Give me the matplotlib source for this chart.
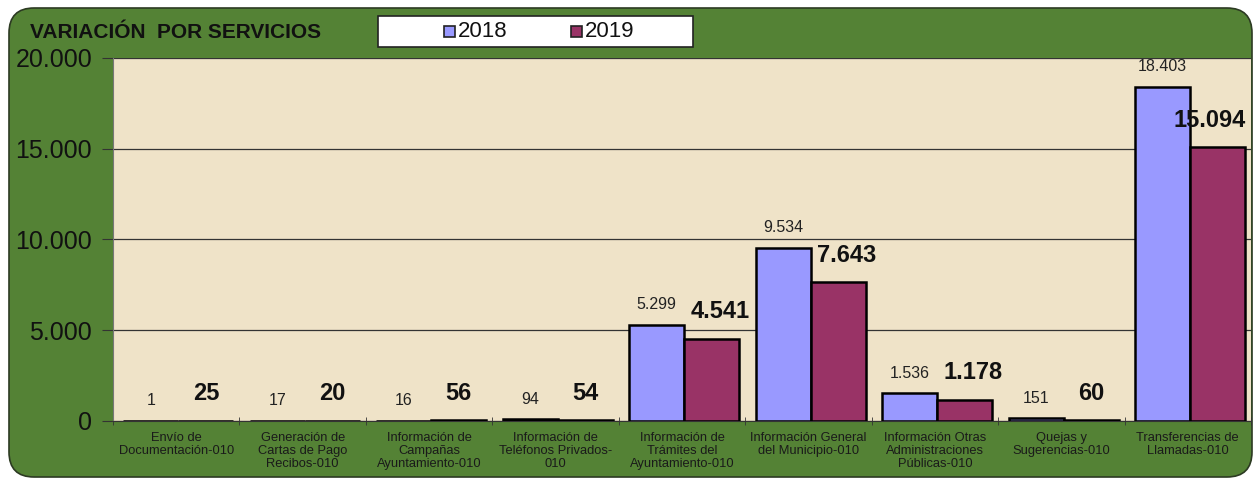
import matplotlib.pyplot as plt
from matplotlib.patches import FancyBboxPatch, Rectangle
import numpy as np

categories = ['Envío de\nDocumentación-010',
              'Generación de\nCartas de Pago\nRecibos-010',
              'Información de\nCampañas\nAyuntamiento-010',
              'Información de\nTeléfonos Privados-\n010',
              'Información de\nTrámites del\nAyuntamiento-010',
              'Información General\ndel Municipio-010',
              'Información Otras\nAdministraciones\nPúblicas-010',
              'Quejas y\nSugerencias-010',
              'Transferencias de\nLlamadas-010']
vals_2018 = [1, 17, 16, 94, 5299, 9534, 1536, 151, 18403]
vals_2019 = [25, 20, 56, 54, 4541, 7643, 1178, 60, 15094]
yticks = [0, 5000, 10000, 15000, 20000]

green = '#548235'
beige = '#efe3c8'
c18 = '#9999ff'
c19 = '#993366'

def fmt(v):
    return f'{v:,}'.replace(',', '.')

plt.rcParams['font.family'] = ['Liberation Sans', 'DejaVu Sans']

W, H = 1253, 479
fig = plt.figure(figsize=(W / 100, H / 100), dpi=100)
fig.patch.set_facecolor('white')

# green rounded panel
panel = FancyBboxPatch((9 / W, 2 / H), 1243 / W, 469 / H,
                       boxstyle='round,pad=0,rounding_size=0.02',
                       transform=fig.transFigure, facecolor=green,
                       edgecolor='#2c3a22', linewidth=1.2,
                       mutation_aspect=W / H, zorder=-5)
fig.patches.append(panel)

ax = fig.add_axes([113 / W, 1 - 421 / H, 1138 / W, 363 / H])
ax.set_facecolor(beige)

x = np.arange(len(categories))
bw = 0.435
x18 = x - 0.2
x19 = x + 0.235
ax.bar(x18, vals_2018, bw, color=c18, edgecolor='black',
       linewidth=1.8, zorder=3)
ax.bar(x19, vals_2019, bw, color=c19, edgecolor='black',
       linewidth=1.8, zorder=3)

n = len(categories)
for i in range(n):
    ax.annotate(fmt(vals_2018[i]), (x18[i], vals_2018[i]),
                xytext=(0, 9), textcoords='offset points', ha='center',
                va='bottom', fontsize=11.5, color='#222222', zorder=4)
    # big labels sit a bit to the right, except at the right edge
    dx = 6 if vals_2019[i] >= 1000 else 0
    if i == n - 1:
        dx = -6
    ax.annotate(fmt(vals_2019[i]), (x19[i], vals_2019[i]),
                xytext=(dx, 11), textcoords='offset points', ha='center',
                va='bottom', fontsize=17, fontweight='bold', color='#111111',
                zorder=4)

ax.set_xlim(-0.5, n - 0.5)
ax.set_ylim(0, 20000)
ax.set_yticks(yticks)
ax.set_yticklabels([fmt(v) for v in yticks], fontsize=18, color='#111111')
ax.yaxis.grid(True, color='#333333', linewidth=0.9, zorder=1)
ax.set_axisbelow(True)

ax.set_xticks(x)
ax.set_xticklabels(categories, fontsize=9.3, color='#1a1a1a', linespacing=1.1)
ax.tick_params(axis='x', length=0, pad=8)
ax.set_xticks(np.arange(-0.5, n), minor=True)
ax.tick_params(axis='x', which='minor', length=6, direction='inout',
               color='#333333')
ax.tick_params(axis='y', length=8, color='#333333', pad=7)

for s in ['top', 'right']:
    ax.spines[s].set_visible(False)
ax.spines['left'].set_color('#777777')
ax.spines['bottom'].set_color('#333333')

# title
fig.text(30 / W, 1 - 33 / H, 'VARIACIÓN  POR SERVICIOS', fontsize=15,
         fontweight='bold', color='#111111', va='center', ha='left')

# legend box
fig.patches.append(Rectangle((378 / W, 1 - 47 / H), 315 / W, 31 / H,
                             transform=fig.transFigure, facecolor='white',
                             edgecolor='#222222', linewidth=1.2))
for xm, lab, col in [(444, '2018', c18), (571, '2019', c19)]:
    fig.patches.append(Rectangle((xm / W, 1 - 37 / H), 11 / W, 11 / H,
                                 transform=fig.transFigure, facecolor=col,
                                 edgecolor='#222222', linewidth=1.2))
    fig.text((xm + 14) / W, 1 - 31.5 / H, lab, fontsize=16, color='#111111',
             va='center', ha='left')

fig.savefig('out.png', dpi=100, facecolor=fig.get_facecolor())
